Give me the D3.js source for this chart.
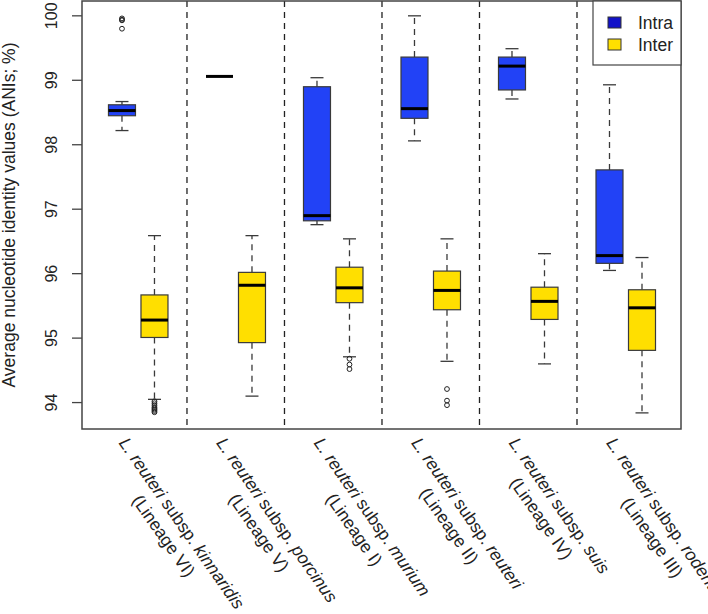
<!DOCTYPE html>
<html>
<head>
<meta charset="utf-8">
<script src="https://cdn.jsdelivr.net/npm/d3@7"></script>
<style>
html,body{margin:0;padding:0;background:#fff;}
svg{display:block;font-family:"Liberation Sans",Arial,Helvetica,sans-serif;}
</style>
</head>
<body>
<svg id="chart" width="708" height="614"></svg>
<script>
// ---- data ----
const subspecies = ["kinnaridis","porcinus","murium","reuteri","suis","rodentium"];
const lineages = ["(Lineage VI)","(Lineage V)","(Lineage I)","(Lineage II)","(Lineage IV)","(Lineage III)"];
// [lower whisker, Q1, median, Q3, upper whisker]
const intraStats = [
  [98.22, 98.45, 98.53, 98.62, 98.67],
  [99.06, 99.06, 99.06, 99.06, 99.06],
  [96.76, 96.82, 96.90, 98.90, 99.04],
  [98.06, 98.41, 98.56, 99.36, 100.00],
  [98.71, 98.85, 99.22, 99.36, 99.49],
  [96.05, 96.16, 96.28, 97.61, 98.93]
];
const interStats = [
  [94.05, 95.01, 95.28, 95.67, 96.59],
  [94.10, 94.93, 95.82, 96.02, 96.59],
  [94.71, 95.55, 95.78, 96.10, 96.54],
  [94.64, 95.44, 95.74, 96.04, 96.54],
  [94.60, 95.29, 95.57, 95.79, 96.31],
  [93.84, 94.81, 95.47, 95.75, 96.25]
];
const intraOutliers = [[99.96, 99.94, 99.93, 99.80], [], [], [], [], []];
const interOutliers = [
  [94.02, 93.99, 93.96, 93.93, 93.91, 93.89, 93.87, 93.85],
  [],
  [94.68, 94.59, 94.52],
  [94.21, 94.03, 93.96],
  [],
  []
];
const intraPos = [1, 4, 7, 10, 13, 16];
const interPos = [2, 5, 8, 11, 14, 17];
const separatorPos = [3, 6, 9, 12, 15];
const yTicks = [94, 95, 96, 97, 98, 99, 100];
const legendLabels = ["Intra", "Inter"];
const intraColor = "#2242f6", interColor = "#ffdf00";
const legendColors = ["#1212c8", "#ffe000"];

// ---- layout ----
const pL = 82, pR = 681, pT = 1, pB = 429;
const svg = d3.select("#chart");
const x = d3.scaleLinear().domain([-0.23, 18.2]).range([pL, pR]);
const y = d3.scaleLinear().domain([93.59, 100.23]).range([pB, pT]);
const boxHalf = 13.5, capHalf = 6.5;
const ink = "#3a3a3a";

// separators
svg.append("g").selectAll("line").data(separatorPos).join("line")
  .attr("x1", d => x(d)).attr("x2", d => x(d))
  .attr("y1", pT).attr("y2", pB)
  .attr("stroke", "#222").attr("stroke-width", 1.3)
  .attr("stroke-dasharray", "6,5");

function drawBoxes(stats, pos, outl, fill) {
  const g = svg.append("g");
  stats.forEach((s, i) => {
    const cx = x(pos[i]);
    const [lo, q1, med, q3, hi] = s;
    [[q3, hi], [q1, lo]].forEach(([a, b]) => {
      if (a !== b) {
        g.append("line").attr("x1", cx).attr("x2", cx)
          .attr("y1", y(a)).attr("y2", y(b))
          .attr("stroke", ink).attr("stroke-width", 1.3)
          .attr("stroke-dasharray", "6,5");
        g.append("line").attr("x1", cx - capHalf).attr("x2", cx + capHalf)
          .attr("y1", y(b)).attr("y2", y(b))
          .attr("stroke", ink).attr("stroke-width", 1.3);
      }
    });
    if (q3 !== q1) {
      g.append("rect").attr("x", cx - boxHalf).attr("width", boxHalf * 2)
        .attr("y", y(q3)).attr("height", y(q1) - y(q3))
        .attr("fill", fill).attr("stroke", ink).attr("stroke-width", 1.2);
    }
    g.append("line").attr("x1", cx - boxHalf).attr("x2", cx + boxHalf)
      .attr("y1", y(med)).attr("y2", y(med))
      .attr("stroke", "#000").attr("stroke-width", 3);
    g.selectAll(null).data(outl[i]).join("circle")
      .attr("cx", cx).attr("cy", d => y(d)).attr("r", 2.4)
      .attr("fill", "none").attr("stroke", "#222").attr("stroke-width", 1);
  });
}
drawBoxes(intraStats, intraPos, intraOutliers, intraColor);
drawBoxes(interStats, interPos, interOutliers, interColor);

// frame
svg.append("rect").attr("x", pL).attr("y", pT)
  .attr("width", pR - pL).attr("height", pB - pT)
  .attr("fill", "none").attr("stroke", "#444").attr("stroke-width", 1.5);

// y axis
const ya = svg.append("g");
ya.selectAll("line").data(yTicks).join("line")
  .attr("x1", pL - 10).attr("x2", pL)
  .attr("y1", d => y(d)).attr("y2", d => y(d))
  .attr("stroke", "#444").attr("stroke-width", 1.3);
ya.selectAll("text").data(yTicks).join("text")
  .attr("transform", d => `translate(57,${y(d)}) rotate(-90)`)
  .attr("text-anchor", "middle").attr("font-size", 16).attr("fill", "#222")
  .text(d => d);
svg.append("text")
  .attr("transform", `translate(15,${(pT + pB) / 2}) rotate(-90)`)
  .attr("text-anchor", "middle").attr("font-size", 17.5).attr("fill", "#222")
  .text("Average nucleotide identity values (ANIs; %)");

// x labels
const angle = 55;
subspecies.forEach((name, i) => {
  const cx = x((intraPos[i] + interPos[i]) / 2) - 20;
  const g = svg.append("g").attr("transform", `translate(${cx},443) rotate(${angle})`);
  const t1 = g.append("text").attr("font-size", 17.5).attr("fill", "#222").attr("text-anchor", "start");
  t1.append("tspan").attr("font-style", "italic").text("L. reuteri");
  t1.append("tspan").text(" subsp. ");
  t1.append("tspan").attr("font-style", "italic").text(name);
  const w = t1.node().getComputedTextLength();
  g.append("text").attr("x", w / 2).attr("y", 22)
    .attr("font-size", 17.5).attr("fill", "#222").attr("text-anchor", "middle")
    .text(lineages[i]);
});

// legend
const lg = svg.append("g");
lg.append("rect").attr("x", 593).attr("y", pT).attr("width", pR - 593).attr("height", 64)
  .attr("fill", "#fff").attr("stroke", "#444").attr("stroke-width", 1.2);
legendLabels.forEach((lab, i) => {
  lg.append("rect").attr("x", 608).attr("y", 17 + i * 22).attr("width", 13).attr("height", 11)
    .attr("fill", legendColors[i]).attr("stroke", "#333").attr("stroke-width", 1);
  lg.append("text").attr("x", 638).attr("y", 29 + i * 22)
    .attr("font-size", 17.5).attr("fill", "#222").text(lab);
});
</script>
</body>
</html>
